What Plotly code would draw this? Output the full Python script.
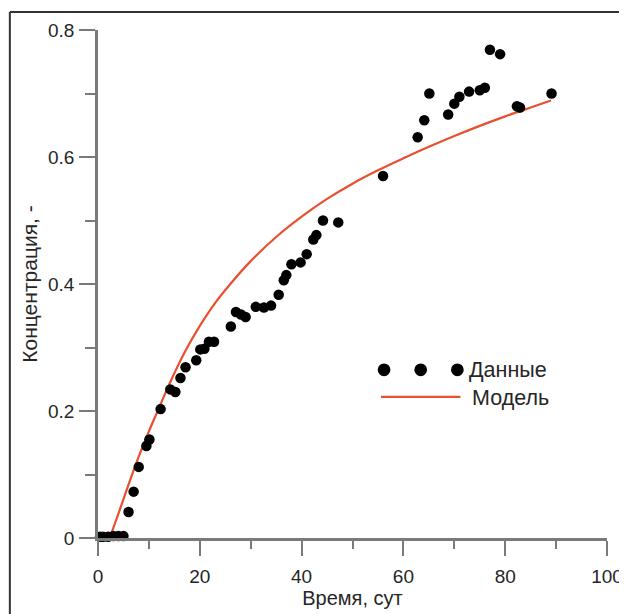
import plotly.graph_objects as go

# Observed data (time in days, concentration)
data_time = [0.4, 1.0, 2.0, 3.0, 4.0, 5.0, 6.0, 7.0, 8.0, 9.5, 10.1, 12.3, 14.2, 15.2,
             16.2, 17.2, 19.3, 20.1, 20.9, 21.8, 22.8, 26.1, 27.1, 28.1, 29.0, 31.0,
             32.6, 34.0, 35.5, 36.5, 37.0, 38.0, 39.8, 41.0, 42.3, 42.9, 44.2, 47.2,
             56.0, 62.8, 64.1, 65.1, 68.8, 70.0, 71.0, 72.9, 75.0, 76.0, 77.0, 79.0,
             82.3, 82.9, 89.1]
data_conc = [0.002, 0.002, 0.002, 0.003, 0.003, 0.003, 0.041, 0.073, 0.112, 0.145, 0.155,
             0.203, 0.234, 0.230, 0.252, 0.269, 0.280, 0.297, 0.298, 0.309, 0.309, 0.333,
             0.356, 0.352, 0.348, 0.364, 0.363, 0.366, 0.383, 0.406, 0.414, 0.431, 0.434,
             0.447, 0.470, 0.477, 0.500, 0.497, 0.570, 0.631, 0.658, 0.700, 0.667, 0.684,
             0.695, 0.703, 0.705, 0.709, 0.769, 0.762, 0.680, 0.678, 0.700]

# Model curve
model_time = [2.3, 4, 6, 8, 10, 12, 14, 17, 20, 23, 26, 30, 35, 40, 45, 50, 55, 60,
              65, 70, 75, 80, 85, 89]
model_conc = [0.0, 0.038, 0.084, 0.128, 0.168, 0.205, 0.242, 0.292, 0.334, 0.370, 0.400,
              0.436, 0.474, 0.506, 0.534, 0.558, 0.579, 0.598, 0.616, 0.633, 0.649, 0.664,
              0.678, 0.689]

legend_labels = ["Данные", "Модель"]
x_title = "Время, сут"
y_title = "Концентрация, -"

FONT = "Liberation Sans, Arial, sans-serif"
AXIS_COL = "#7a7a7a"
TXT_COL = "#262626"
LINE_COL = "#e8502f"

fig = go.Figure()
fig.add_trace(go.Scatter(x=model_time, y=model_conc, mode="lines",
                         line=dict(color=LINE_COL, width=2.2, shape="spline", smoothing=1),
                         name=legend_labels[1], cliponaxis=False, showlegend=False))
fig.add_trace(go.Scatter(x=data_time, y=data_conc, mode="markers",
                         marker=dict(color="black", size=10.5),
                         name=legend_labels[0], cliponaxis=False, showlegend=False))

# Manual Igor-style legend (three dots + line)
shapes = []
for cx in [0.562, 0.634, 0.706]:
    shapes.append(dict(type="circle", xref="paper", yref="paper",
                       x0=cx - 0.0125, x1=cx + 0.0125, y0=0.331 - 0.0125, y1=0.331 + 0.0125,
                       fillcolor="black", line=dict(width=0)))
shapes.append(dict(type="line", xref="paper", yref="paper", x0=0.556, x1=0.712,
                   y0=0.278, y1=0.278, line=dict(color=LINE_COL, width=2.2)))
# outer frame (left and top)
shapes.append(dict(type="line", xref="paper", yref="paper", x0=-0.1732, x1=-0.1732,
                   y0=-0.2, y1=1.0352, line=dict(color="#333", width=2)))
shapes.append(dict(type="line", xref="paper", yref="paper", x0=-0.1732, x1=1.05,
                   y0=1.0352, y1=1.0352, line=dict(color="#333", width=2)))

annotations = [
    dict(text=legend_labels[0], xref="paper", yref="paper", x=0.724, y=0.331,
         xanchor="left", yanchor="middle", showarrow=False,
         font=dict(family=FONT, size=21.5, color=TXT_COL)),
    dict(text=legend_labels[1], xref="paper", yref="paper", x=0.731, y=0.276,
         xanchor="left", yanchor="middle", showarrow=False,
         font=dict(family=FONT, size=21.5, color=TXT_COL)),
]

fig.update_layout(
    width=627, height=614,
    margin=dict(l=90, r=23, t=19, b=84),
    paper_bgcolor="white", plot_bgcolor="white",
    font=dict(family=FONT, color=TXT_COL, size=18),
    shapes=shapes, annotations=annotations,
    xaxis=dict(range=[0, 100], dtick=20, tick0=0, showgrid=False, zeroline=False,
               showline=True, linecolor=AXIS_COL, linewidth=2.5,
               ticks="outside", ticklen=15, tickwidth=2, tickcolor=AXIS_COL,
               ticklabelstandoff=4,
               minor=dict(dtick=10, ticks="outside", ticklen=8, tickwidth=1.5,
                          tickcolor=AXIS_COL, showgrid=False),
               tickfont=dict(size=19, color=TXT_COL),
               title=dict(text=x_title, font=dict(size=20, color=TXT_COL), standoff=5)),
    yaxis=dict(range=[0, 0.8], dtick=0.2, tick0=0, showgrid=False, zeroline=False,
               showline=True, linecolor=AXIS_COL, linewidth=2.5,
               ticks="outside", ticklen=16, tickwidth=2, tickcolor=AXIS_COL,
               ticklabelstandoff=1,
               minor=dict(dtick=0.1, ticks="outside", ticklen=10, tickwidth=1.5,
                          tickcolor=AXIS_COL, showgrid=False),
               tickfont=dict(size=19, color=TXT_COL),
               title=dict(text=y_title, font=dict(size=21, color=TXT_COL), standoff=5)),
)

fig.write_html("out.html")
